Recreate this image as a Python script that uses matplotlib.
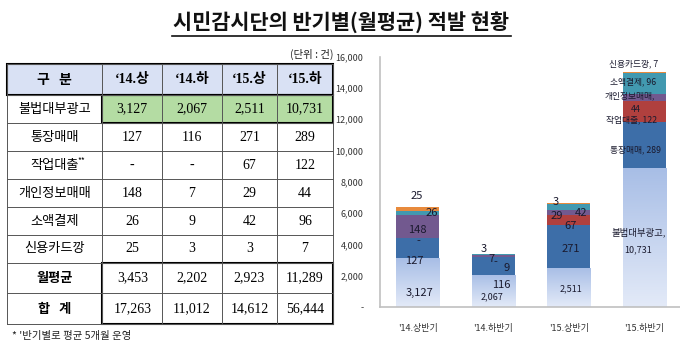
import numpy as np
import matplotlib
matplotlib.use("Agg")
import matplotlib.pyplot as plt
from matplotlib.patches import Rectangle
from matplotlib.ticker import FuncFormatter

KR = ["Noto Sans CJK KR", "DejaVu Sans"]
SERIF_KR = ["Liberation Serif", "Noto Sans CJK KR", "DejaVu Sans"]
plt.rcParams["font.family"] = KR

# ---- table data
periods = ["\u201814.상", "\u201814.하", "\u201815.상", "\u201815.하"]
row_names = ["불법대부광고", "통장매매", "작업대출", "개인정보매매", "소액결제", "신용카드깡"]
illegal = ["3,127", "2,067", "2,511", "10,731"]
account = ["127", "116", "271", "289"]
work_loan = ["-", "-", "67", "122"]
personal = ["148", "7", "29", "44"]
small_pay = ["26", "9", "42", "96"]
card = ["25", "3", "3", "7"]
monthly_avg = ["3,453", "2,202", "2,923", "11,289"]
total = ["17,263", "11,012", "14,612", "56,444"]

# ---- bar heights as drawn in the chart (small categories are drawn x10)
bar_labels = ["'14.상반기", "'14.하반기", "'15.상반기", "'15.하반기"]
h_illegal = [3127, 2067, 2511, 8870]
h_account = [1270, 1160, 2710, 2940]
h_work = [0, 0, 670, 1380]
h_personal = [1480, 70, 290, 430]
h_small = [260, 90, 420, 1320]
h_card = [250, 30, 30, 70]

fig = plt.figure(figsize=(6.8, 3.49), dpi=100)

# background axes in pixel coordinates for title + table
bg = fig.add_axes([0, 0, 1, 1])
bg.set_xlim(0, 680)
bg.set_ylim(349, 0)
bg.set_axis_off()

bg.text(341, 23, "시민감시단의 반기별(월평균) 적발 현황", ha="center", va="center",
        fontsize=15, fontweight="bold", color="#111111")
bg.plot([172, 511], [35.5, 35.5], color="#111111", lw=1.2)
bg.text(333, 54, "(단위 : 건)", ha="right", va="center", fontsize=7.5, color="#222222")

cols = [7.3, 102.3, 162.3, 221.7, 277.3, 332.7]
rows = [64.3, 95, 123.3, 151, 179.3, 207.3, 235, 262.7, 293.3, 324.3]

# fills
bg.add_patch(Rectangle((cols[0], rows[0]), cols[-1] - cols[0], rows[1] - rows[0],
                       facecolor="#d9e1f4", edgecolor="none"))
bg.add_patch(Rectangle((cols[1], rows[1]), cols[-1] - cols[1], rows[2] - rows[1],
                       facecolor="#b4dca3", edgecolor="none"))
# thin grid
for y in rows:
    bg.plot([cols[0], cols[-1]], [y, y], color="#555555", lw=0.7)
for x in cols:
    bg.plot([x, x], [rows[0], rows[-1]], color="#555555", lw=0.7)
# thick frames
for (x0, y0, x1, y1) in [(cols[0], rows[0], cols[-1], rows[1]),
                         (cols[1], rows[1], cols[-1], rows[2]),
                         (cols[1], rows[7], cols[-1], rows[9])]:
    bg.add_patch(Rectangle((x0, y0), x1 - x0, y1 - y0, facecolor="none",
                           edgecolor="#000000", lw=1.5))

def cx(i):
    return (cols[i] + cols[i + 1]) / 2

def cy(j):
    return (rows[j] + rows[j + 1]) / 2

bg.text(cx(0), cy(0), "구   분", ha="center", va="center", fontsize=10, fontweight="bold")
for i, p in enumerate(periods):
    bg.text(cx(i + 1), cy(0), p, ha="center", va="center", fontsize=10,
            fontweight="bold", family=SERIF_KR)

table_rows = [illegal, account, work_loan, personal, small_pay, card]
for j, (name, vals) in enumerate(zip(row_names, table_rows)):
    bg.text(cx(0), cy(j + 1), name, ha="center", va="center", fontsize=9.5)
    if name == "작업대출":
        bg.text(cx(0) + 27, cy(j + 1) - 5, "**", ha="center", va="center", fontsize=6)
    for i, v in enumerate(vals):
        bg.text(cx(i + 1), cy(j + 1), v, ha="center", va="center", fontsize=10,
                family=SERIF_KR)

bg.text(cx(0), cy(7), "월평균", ha="center", va="center", fontsize=9.5, fontweight="bold")
bg.text(cx(0), cy(8), "합   계", ha="center", va="center", fontsize=9.5, fontweight="bold")
for i, v in enumerate(monthly_avg):
    bg.text(cx(i + 1), cy(7), v, ha="center", va="center", fontsize=10, family=SERIF_KR)
for i, v in enumerate(total):
    bg.text(cx(i + 1), cy(8), v, ha="center", va="center", fontsize=10, family=SERIF_KR)

bg.text(12, 336, "* '반기별로 평균 5개월 운영", ha="left", va="center", fontsize=7.5,
        color="#222222")

# ---- stacked bar chart
ax = fig.add_axes([380 / 680, 42 / 349, 300 / 680, 250.3 / 349])
x = np.arange(len(bar_labels))
w = 0.57
series = [
    (h_illegal, "#c3d2ee"),
    (h_account, "#3d6ea8"),
    (h_work, "#b0403e"),
    (h_personal, "#72598f"),
    (h_small, "#4299b0"),
    (h_card, "#e88a3c"),
]
bottom = np.zeros(len(x))
for k, (vals, color) in enumerate(series):
    bars = ax.bar(x, vals, w, bottom=bottom, color=color, edgecolor="none", zorder=2)
    if k == 0:
        # light-blue gradient fill for the bottom series
        grad = np.linspace(1, 0, 64).reshape(-1, 1)
        cmap = matplotlib.colors.LinearSegmentedColormap.from_list(
            "b", ["#e3eaf8", "#a8bee6"])
        for b in bars:
            im = ax.imshow(grad, extent=(b.get_x(), b.get_x() + b.get_width(), 0,
                                         b.get_height()),
                           aspect="auto", cmap=cmap, origin="upper", zorder=2.5)
            im.set_clip_path(b)
    bottom += np.array(vals)

ax.set_xlim(-0.5, 3.47)
ax.set_ylim(0, 16000)
ax.set_yticks(np.arange(0, 16001, 2000))
ax.yaxis.set_major_formatter(FuncFormatter(lambda v, p: "-" if v == 0 else f"{v:,.0f}"))
ax.set_xticks(x)
ax.set_xticklabels(bar_labels)
ax.tick_params(length=0, labelsize=6.5, colors="#333333")
ax.tick_params(axis="y", pad=12)
ax.tick_params(axis="x", pad=12)
for s in ["top", "right"]:
    ax.spines[s].set_visible(False)
for s in ["left", "bottom"]:
    ax.spines[s].set_color("#c0c0c0")
    ax.spines[s].set_linewidth(1.2)
ax.set_facecolor("none")

# data labels: (bar, dx, y, text, size)
labels = [
    (0, 0.02, 870, "3,127", 8), (0, -0.04, 2940, "127", 8), (0, 0.01, 4210, "-", 8),
    (0, 0.0, 4950, "148", 8), (0, 0.185, 6010, "26", 8), (0, -0.01, 7070, "25", 8),
    (1, -0.13, 3730, "3", 8), (1, -0.03, 3090, "7", 8), (1, 0.03, 2880, "-", 8),
    (1, 0.18, 2520, "9", 8), (1, 0.11, 1400, "116", 8), (1, -0.02, 620, "2,067", 6.5),
    (2, -0.17, 6690, "3", 8), (2, -0.16, 5800, "29", 8), (2, 0.16, 6010, "42", 8),
    (2, 0.02, 5160, "67", 8), (2, 0.03, 3680, "271", 8), (2, 0.03, 1140, "2,511", 6.5),
    (3, -0.15, 15540, "신용카드깡, 7", 6.3), (3, -0.15, 14410, "소액결제, 96", 6.3),
    (3, -0.19, 13520, "개인정보매매,", 6.3), (3, -0.12, 12630, "44", 6.3),
    (3, -0.17, 11940, "작업대출, 122", 6.3), (3, -0.12, 10030, "통장매매, 289", 6.3),
    (3, -0.08, 4740, "불법대부광고,", 6.8), (3, -0.08, 3680, "10,731", 6.5),
]
for b, dx, y, t, fs in labels:
    ax.text(b + dx, y, t, ha="center", va="center", fontsize=fs, color="#1a1a2e",
            zorder=5, clip_on=False)

fig.savefig("out.png", dpi=100)
